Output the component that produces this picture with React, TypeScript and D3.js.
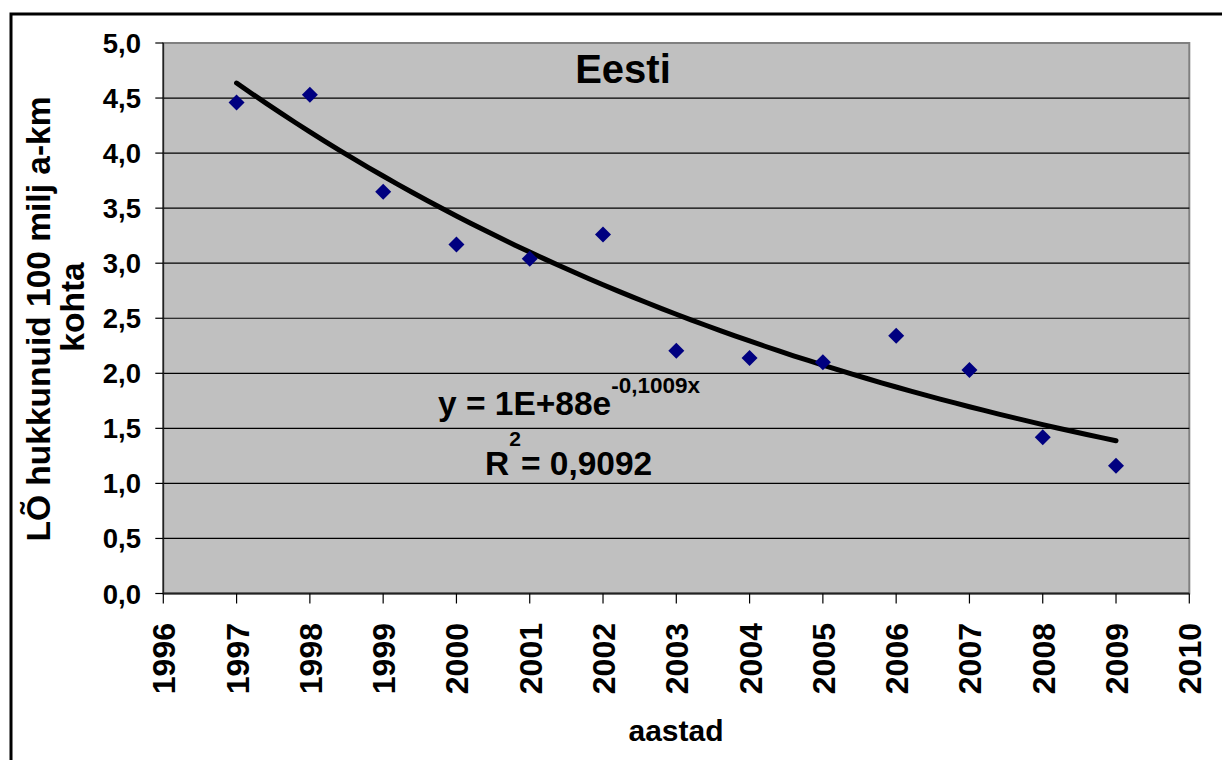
import React from "react";
import * as d3 from "d3";

const years = [1997, 1998, 1999, 2000, 2001, 2002, 2003, 2004, 2005, 2006, 2007, 2008, 2009];
const values = [4.46, 4.53, 3.65, 3.17, 3.04, 3.26, 2.205, 2.14, 2.1, 2.34, 2.03, 1.42, 1.16];
const xTicks = [1996, 1997, 1998, 1999, 2000, 2001, 2002, 2003, 2004, 2005, 2006, 2007, 2008, 2009, 2010];
const yTicks = [0, 0.5, 1, 1.5, 2, 2.5, 3, 3.5, 4, 4.5, 5];

const W = 1222;
const H = 760;
const FONT = "'Liberation Sans', Arial, sans-serif";

export default function App() {
  const left = 163.3, right = 1189.3, top = 43, bottom = 593.5;
  const x = d3.scaleLinear().domain([1996, 2010]).range([left, right]);
  const y = d3.scaleLinear().domain([0, 5]).range([bottom, top]);

  // exponential regression
  const n = years.length;
  const lx = years;
  const ly = values.map((v) => Math.log(v));
  const mx = d3.mean(lx)!;
  const my = d3.mean(ly)!;
  let sxy = 0, sxx = 0;
  for (let i = 0; i < n; i++) {
    sxy += (lx[i] - mx) * (ly[i] - my);
    sxx += (lx[i] - mx) * (lx[i] - mx);
  }
  const b = sxy / sxx;
  const a = my - b * mx;
  const trendX = d3.range(0, 61).map((i) => years[0] + (i / 60) * (years[n - 1] - years[0]));
  const line = d3
    .line<number>()
    .x((d) => x(d))
    .y((d) => y(Math.exp(a + b * d)));

  const diamond = (cx: number, cy: number, r: number) =>
    `M${cx},${cy - r}L${cx + r},${cy}L${cx},${cy + r}L${cx - r},${cy}Z`;

  return (
    <svg
      width={W}
      height={H}
      style={{ position: "absolute", left: 0, top: 0, background: "#fff" }}
      fontFamily={FONT}
      fontWeight="bold"
    >
      <rect x={0} y={0} width={W} height={H} fill="#fff" />
      <rect x={11} y={14} width={W + 20} height={H + 20} fill="none" stroke="#000" strokeWidth={3} />

      {/* plot area */}
      <rect x={left} y={top} width={right - left} height={bottom - top} fill="#C0C0C0" stroke="#808080" strokeWidth={2} />

      {/* gridlines */}
      {yTicks.slice(1, -1).map((t) => (
        <line key={t} x1={left} x2={right} y1={y(t)} y2={y(t)} stroke="#000" strokeWidth={1.2} />
      ))}

      {/* axes */}
      <line x1={left} x2={left} y1={top} y2={bottom} stroke="#222" strokeWidth={1.5} />
      <line x1={left} x2={right} y1={bottom} y2={bottom} stroke="#222" strokeWidth={2} />

      {/* y ticks */}
      {yTicks.map((t) => (
        <g key={t}>
          <line x1={left - 8} x2={left} y1={y(t)} y2={y(t)} stroke="#000" strokeWidth={1.2} />
          <text x={141} y={y(t) + 10} textAnchor="end" fontSize={27.5}>
            {t.toFixed(1).replace(".", ",")}
          </text>
        </g>
      ))}

      {/* x ticks */}
      {xTicks.map((t) => (
        <g key={t}>
          <line x1={x(t)} x2={x(t)} y1={bottom} y2={bottom + 10} stroke="#000" strokeWidth={1.2} />
          <text
            transform={`translate(${x(t) + 12},${623}) rotate(-90)`}
            textAnchor="end"
            fontSize={32}
          >
            {t}
          </text>
        </g>
      ))}

      {/* trend line */}
      <path d={line(trendX) || ""} fill="none" stroke="#000" strokeWidth={5} strokeLinecap="round" strokeLinejoin="round" />

      {/* points */}
      {years.map((yr, i) => (
        <path key={yr} d={diamond(x(yr), y(values[i]), 8)} fill="#000080" />
      ))}

      {/* title */}
      <text x={623} y={83} textAnchor="middle" fontSize={40}>
        Eesti
      </text>

      {/* equation */}
      <text x={438} y={415} fontSize={33.5}>
        y = 1E+88e
        <tspan fontSize={22.5} dy={-22}>-0,1009x</tspan>
      </text>
      <text x={485} y={475} fontSize={33.5}>
        R
        <tspan fontSize={21} dy={-29}>2</tspan>
        <tspan dy={29}>= 0,9092</tspan>
      </text>

      {/* axis titles */}
      <text x={676} y={741} textAnchor="middle" fontSize={30}>
        aastad
      </text>
      <text transform={`translate(50,319) rotate(-90)`} textAnchor="middle" fontSize={33.5}>
        LÕ hukkunuid 100 milj a-km
      </text>
      <text transform={`translate(84,307) rotate(-90)`} textAnchor="middle" fontSize={33.5}>
        kohta
      </text>
    </svg>
  );
}
